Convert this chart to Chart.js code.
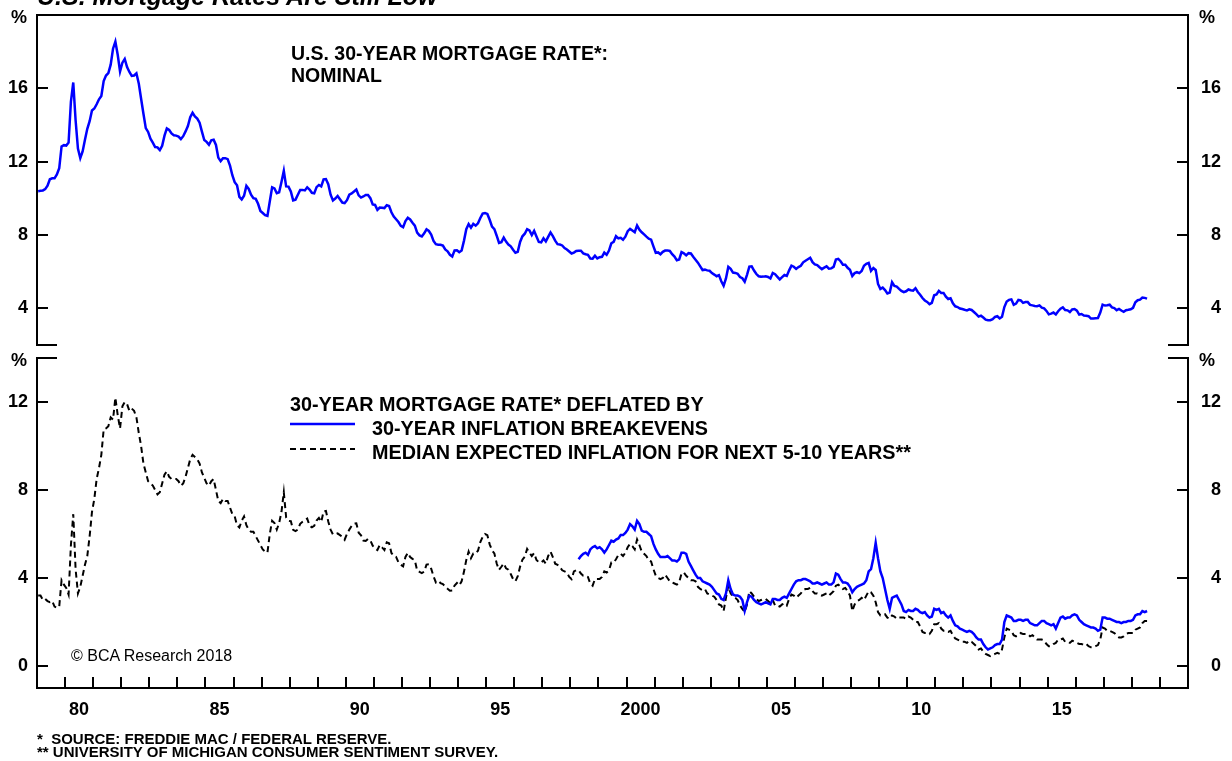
<!DOCTYPE html>
<html>
<head>
<meta charset="utf-8">
<script src="https://cdn.jsdelivr.net/npm/chart.js@4.4.0/dist/chart.umd.min.js"></script>
<style>
  body { margin: 0; background: #fff; width: 1232px; height: 761px; overflow: hidden; position: relative;
         font-family: "Liberation Sans", Arial, sans-serif; }
  canvas { position: absolute; left: 0; }
  .t { position: absolute; white-space: pre; font-weight: bold; line-height: 1; color: #000; font-size: 19.5px; }
  .leg { font-size: 19.8px; }
</style>
</head>
<body>
<canvas id="topChart" width="1232" height="358" style="top:0"></canvas>
<canvas id="bottomChart" width="1232" height="411" style="top:350px"></canvas>

<div class="t" style="left:37px; top:-16px; font-size:25px; font-style:italic;">U.S. Mortgage Rates Are Still Low</div>
<div class="t" style="left:11px; top:8px; font-size:18px;">%</div>
<div class="t" style="left:1199px; top:8px; font-size:18px;">%</div>
<div class="t" style="left:11px; top:351px; font-size:18px;">%</div>
<div class="t" style="left:1199px; top:351px; font-size:18px;">%</div>
<div class="t" style="left:291px; top:43.5px;">U.S. 30-YEAR MORTGAGE RATE*:</div>
<div class="t" style="left:291px; top:66px;">NOMINAL</div>
<div class="t leg" style="left:290px; top:394.5px;">30-YEAR MORTGAGE RATE* DEFLATED BY</div>
<div class="t leg" style="left:372px; top:418.5px;">30-YEAR INFLATION BREAKEVENS</div>
<div class="t leg" style="left:372px; top:442.5px;">MEDIAN EXPECTED INFLATION FOR NEXT 5-10 YEARS**</div>
<div class="t" style="left:71px; top:648px; font-size:16px; font-weight:normal;">© BCA Research 2018</div>
<div class="t" style="left:37px; top:730.5px; font-size:15px;">*  SOURCE: FREDDIE MAC / FEDERAL RESERVE.</div>
<div class="t" style="left:37px; top:743.5px; font-size:15px;">** UNIVERSITY OF MICHIGAN CONSUMER SENTIMENT SURVEY.</div>

<script>
// monthly data, Jan 1979 .. Jul 2018
const startYear = 1979;

// U.S. 30-year mortgage rate, nominal (%)
const nominalRate = [
  10.39, 10.41, 10.43, 10.50, 10.69, 11.04, 11.09, 11.09, 11.30, 11.64, 12.83, 12.90,
  12.88, 13.04, 15.28, 16.32, 14.26, 12.71, 12.19, 12.56, 13.20, 13.79, 14.21, 14.79,
  14.90, 15.13, 15.40, 15.58, 16.40, 16.70, 16.83, 17.29, 18.16, 18.55, 17.83, 16.92,
  17.40, 17.60, 17.16, 16.89, 16.68, 16.70, 16.82, 16.27, 15.43, 14.61, 13.83, 13.62,
  13.25, 13.04, 12.80, 12.78, 12.63, 12.87, 13.42, 13.81, 13.73, 13.54, 13.44, 13.42,
  13.37, 13.23, 13.39, 13.65, 13.94, 14.42, 14.67, 14.47, 14.35, 14.13, 13.64, 13.18,
  13.08, 12.92, 13.17, 13.20, 12.91, 12.22, 12.03, 12.19, 12.19, 12.14, 11.78, 11.26,
  10.88, 10.71, 10.08, 9.94, 10.14, 10.68, 10.51, 10.20, 10.01, 9.97, 9.70, 9.31,
  9.20, 9.08, 9.04, 9.83, 10.60, 10.54, 10.28, 10.33, 10.89, 11.50, 10.65, 10.64,
  10.38, 9.89, 9.93, 10.20, 10.46, 10.46, 10.43, 10.60, 10.48, 10.30, 10.27, 10.61,
  10.73, 10.65, 11.03, 11.05, 10.77, 10.20, 9.88, 9.99, 10.13, 9.95, 9.77, 9.74,
  9.90, 10.20, 10.27, 10.37, 10.48, 10.16, 10.04, 10.10, 10.18, 10.18, 10.01, 9.67,
  9.64, 9.37, 9.50, 9.49, 9.47, 9.62, 9.58, 9.24, 9.01, 8.86, 8.71, 8.50,
  8.43, 8.76, 8.94, 8.85, 8.67, 8.51, 8.13, 7.98, 7.92, 8.09, 8.31, 8.22,
  8.02, 7.68, 7.50, 7.47, 7.47, 7.42, 7.21, 7.11, 6.92, 6.83, 7.16, 7.17,
  7.06, 7.15, 7.68, 8.32, 8.60, 8.40, 8.61, 8.51, 8.64, 8.93, 9.17, 9.20,
  9.15, 8.83, 8.46, 8.32, 7.96, 7.57, 7.61, 7.86, 7.64, 7.48, 7.38, 7.20,
  7.03, 7.08, 7.62, 7.93, 8.07, 8.32, 8.25, 8.00, 8.23, 7.92, 7.62, 7.60,
  7.82, 7.65, 7.90, 8.14, 7.94, 7.69, 7.50, 7.48, 7.43, 7.29, 7.21, 7.10,
  6.99, 7.04, 7.13, 7.14, 7.14, 7.00, 6.95, 6.92, 6.72, 6.71, 6.87, 6.72,
  6.79, 6.81, 7.04, 6.92, 7.15, 7.55, 7.63, 7.94, 7.82, 7.85, 7.74, 7.91,
  8.21, 8.33, 8.24, 8.15, 8.52, 8.29, 8.15, 8.03, 7.91, 7.80, 7.75, 7.38,
  7.03, 7.05, 6.95, 7.08, 7.15, 7.16, 7.13, 6.95, 6.82, 6.62, 6.66, 7.07,
  7.00, 6.89, 7.01, 6.99, 6.81, 6.65, 6.49, 6.29, 6.09, 6.11, 6.07, 6.05,
  5.92, 5.84, 5.75, 5.81, 5.48, 5.23, 5.63, 6.26, 6.15, 5.95, 5.93, 5.88,
  5.71, 5.64, 5.45, 5.83, 6.27, 6.29, 6.06, 5.87, 5.75, 5.72, 5.73, 5.75,
  5.71, 5.63, 5.93, 5.86, 5.72, 5.58, 5.70, 5.82, 5.77, 6.07, 6.33, 6.27,
  6.15, 6.25, 6.32, 6.51, 6.60, 6.68, 6.76, 6.52, 6.40, 6.36, 6.24, 6.14,
  6.22, 6.29, 6.16, 6.18, 6.26, 6.66, 6.70, 6.57, 6.38, 6.38, 6.21, 6.10,
  5.76, 5.92, 5.97, 5.92, 6.04, 6.32, 6.43, 6.48, 6.04, 6.20, 6.09, 5.33,
  5.06, 5.13, 5.00, 4.81, 4.86, 5.42, 5.22, 5.19, 5.06, 4.95, 4.88, 4.93,
  5.03, 4.99, 4.97, 5.10, 4.89, 4.74, 4.56, 4.43, 4.35, 4.23, 4.30, 4.71,
  4.76, 4.95, 4.84, 4.84, 4.64, 4.51, 4.55, 4.27, 4.11, 4.07, 3.99, 3.96,
  3.92, 3.89, 3.95, 3.91, 3.80, 3.68, 3.55, 3.60, 3.50, 3.38, 3.35, 3.35,
  3.41, 3.53, 3.57, 3.45, 3.54, 4.07, 4.37, 4.46, 4.49, 4.19, 4.26, 4.46,
  4.43, 4.30, 4.34, 4.34, 4.19, 4.16, 4.13, 4.12, 4.16, 4.04, 4.00, 3.86,
  3.67, 3.71, 3.77, 3.67, 3.84, 3.98, 4.05, 3.91, 3.89, 3.80, 3.94, 3.96,
  3.87, 3.66, 3.69, 3.61, 3.60, 3.57, 3.44, 3.44, 3.46, 3.47, 3.77, 4.20,
  4.15, 4.17, 4.20, 4.05, 4.01, 3.90, 3.97, 3.88, 3.81, 3.90, 3.92, 3.95,
  4.03, 4.33, 4.44, 4.47, 4.59, 4.57, 4.53
];

// mortgage rate deflated by median expected inflation, next 5-10 years (%)
const realMichigan = [
  3.2, 3.2, 3.0, 3.05, 2.95, 2.9, 2.95, 2.7, 2.65, 2.7, 3.9, 3.7,
  3.55, 3.25, 5.5, 6.9, 4.4, 3.3, 3.6, 4.1, 4.6, 5.0, 5.9, 7.0,
  7.6, 8.5, 9.0, 9.6, 10.75, 10.8, 10.9, 11.3, 11.2, 12.2, 11.4, 10.8,
  11.8, 12.0, 11.9, 11.6, 11.7, 11.6, 11.3, 10.6, 10.0, 9.2, 8.8, 8.4,
  8.3, 8.2, 8.0, 7.8, 7.9, 8.3, 8.7, 8.85, 8.6, 8.5, 8.5, 8.5,
  8.4, 8.2, 8.3, 8.6, 9.0, 9.4, 9.6, 9.5, 9.4, 9.2, 8.8, 8.55,
  8.3, 8.2, 8.4, 8.5, 8.0, 7.5, 7.4, 7.6, 7.5, 7.5, 7.2, 6.9,
  6.8, 6.4, 6.3, 6.6, 6.8, 6.4, 6.2, 6.1, 6.1, 5.9, 5.7, 5.5,
  5.3, 5.2, 5.15, 6.0, 6.6, 6.5, 6.2, 6.5, 7.0, 7.9, 6.75, 6.6,
  6.58, 6.19, 6.13, 6.2, 6.46, 6.56, 6.63, 6.7, 6.38, 6.3, 6.37, 6.61,
  6.73, 6.55, 7.03, 7.05, 6.57, 6.2, 5.98, 5.99, 6.03, 5.95, 5.87, 5.74,
  6.0, 6.2, 6.37, 6.47, 6.48, 6.06, 5.94, 5.7, 5.68, 5.78, 5.71, 5.47,
  5.34, 5.27, 5.5, 5.39, 5.27, 5.62, 5.58, 5.14, 5.01, 4.96, 4.71, 4.6,
  4.53, 4.96, 5.14, 4.95, 4.87, 4.81, 4.33, 4.28, 4.22, 4.29, 4.61, 4.62,
  4.42, 4.08, 3.8, 3.87, 3.77, 3.72, 3.61, 3.51, 3.42, 3.43, 3.66, 3.77,
  3.66, 3.85, 4.28, 4.82, 5.2, 4.9, 5.11, 5.11, 5.24, 5.63, 5.87, 6.0,
  5.95, 5.53, 5.26, 5.12, 4.66, 4.37, 4.51, 4.66, 4.44, 4.38, 4.18, 3.95,
  3.85, 4.08, 4.52, 4.83, 4.97, 5.32, 5.15, 5.0, 5.13, 4.82, 4.72, 4.7,
  4.8, 4.65, 5.0, 5.2, 4.95, 4.65, 4.6, 4.5, 4.35, 4.3, 4.25, 4.05,
  3.95, 4.3, 4.35, 4.35, 4.2, 4.1, 4.1, 4.05, 3.75, 3.65, 3.95, 3.95,
  3.95, 4.05, 4.3, 4.25, 4.35, 4.7, 4.7, 4.85, 5.05, 5.1, 5.0, 5.15,
  5.4, 5.55, 5.45, 5.3, 5.75, 5.5, 5.2, 5.1, 5.0, 4.8, 4.75, 4.4,
  4.1, 4.0, 3.95, 4.0, 4.15, 4.0, 3.85, 3.8, 3.75, 3.7, 3.8, 4.2,
  4.25, 4.1, 4.0, 3.9, 3.9, 3.85, 3.6, 3.5, 3.45, 3.5, 3.3, 3.25,
  3.2, 3.15, 3.0, 2.8, 2.75, 2.5, 3.1, 3.65, 3.3, 3.15, 3.1, 3.0,
  2.75, 2.6, 2.45, 2.8, 3.4, 3.3, 3.15, 3.05, 2.95, 3.0, 3.05, 3.05,
  2.95, 2.85, 3.0, 2.75, 2.75, 2.7, 2.8, 2.85, 2.75, 3.05, 3.25, 3.2,
  3.1, 3.2, 3.3, 3.45, 3.5, 3.5, 3.55, 3.4, 3.3, 3.3, 3.25, 3.2,
  3.25, 3.3, 3.2, 3.3, 3.4, 3.65, 3.7, 3.6, 3.5, 3.55, 3.4, 3.2,
  2.5, 2.8, 2.95, 3.0, 3.1, 3.0, 3.2, 3.4, 3.35, 3.2, 2.9, 2.45,
  2.3, 2.3, 2.35, 2.2, 2.15, 2.3, 2.25, 2.15, 2.2, 2.2, 2.2, 2.15,
  2.25, 2.2, 2.1, 2.0, 2.0, 1.8, 1.55, 1.5, 1.5, 1.45, 1.6, 1.9,
  1.9, 1.95, 1.7, 1.6, 1.6, 1.55, 1.6, 1.4, 1.25, 1.2, 1.15, 1.1,
  1.1, 1.05, 1.15, 1.1, 1.0, 0.9, 0.75, 0.8, 0.65, 0.55, 0.5, 0.45,
  0.5, 0.55, 0.6, 0.55, 0.75, 1.3, 1.7, 1.65, 1.6, 1.4, 1.35, 1.4,
  1.5, 1.45, 1.45, 1.45, 1.35, 1.4, 1.3, 1.2, 1.2, 1.2, 1.15, 1.0,
  0.9, 0.9, 1.0, 1.05, 1.2, 1.2, 1.25, 1.1, 1.1, 1.05, 1.15, 1.1,
  1.05, 1.0, 1.0, 0.95, 1.0, 0.9, 0.85, 0.85, 0.9, 0.95, 1.2, 1.75,
  1.7, 1.6, 1.6, 1.55, 1.5, 1.4, 1.3, 1.3, 1.35, 1.45, 1.5, 1.5,
  1.5, 1.65, 1.7, 1.75, 1.95, 2.05, 2.05
];

// mortgage rate deflated by 30-year inflation breakevens (%), from Apr 1998
const breakevenStartYear = 1998;
const breakevenStartMonth = 4;
const realBreakeven = [
  4.85, 5.0, 5.1, 5.15, 5.05, 5.3, 5.4, 5.45, 5.35,
  5.4, 5.3, 5.15, 5.3, 5.5, 5.7, 5.65, 5.75, 5.8, 5.95, 5.95, 6.05,
  6.2, 6.45, 6.35, 6.2, 6.6, 6.45, 6.15, 6.1, 6.1, 6.0, 5.9, 5.55,
  5.3, 5.1, 4.95, 4.95, 4.95, 5.0, 4.9, 4.8, 4.8, 4.75, 4.85, 5.15,
  5.15, 5.1, 4.75, 4.55, 4.35, 4.15, 4.0, 4.0, 3.85, 3.8, 3.75, 3.7,
  3.6, 3.45, 3.3, 3.25, 3.05, 3.0, 3.3, 3.9, 3.5, 3.25, 3.2, 3.2,
  3.15, 3.0, 2.5, 2.9, 3.2, 3.15, 3.0, 2.9, 2.85, 2.8, 2.85, 2.9,
  2.85, 2.8, 3.05, 3.05, 3.0, 3.0, 3.1, 3.15, 3.1, 3.3, 3.5, 3.7,
  3.85, 3.9, 3.9, 3.95, 3.95, 3.9, 3.85, 3.75, 3.75, 3.8, 3.75, 3.7,
  3.75, 3.8, 3.7, 3.7, 3.8, 4.2, 4.15, 3.95, 3.8, 3.8, 3.75, 3.6,
  3.35, 3.5, 3.6, 3.65, 3.7, 3.75, 3.9, 4.3, 4.4, 4.9, 5.6, 4.9,
  4.3, 4.0, 3.5, 3.0, 2.6, 3.1, 3.15, 3.2, 3.0, 2.8, 2.5, 2.45,
  2.55, 2.5, 2.5, 2.6, 2.55, 2.45, 2.4, 2.45, 2.3, 2.2, 2.25, 2.6,
  2.55, 2.6, 2.4, 2.45, 2.3, 2.2, 2.3, 2.05, 1.85, 1.8, 1.7, 1.65,
  1.6, 1.55, 1.6, 1.55, 1.45, 1.3, 1.2, 1.2, 1.0, 0.85, 0.75, 0.8,
  0.85, 0.95, 1.0, 1.0, 1.2, 2.0, 2.3, 2.25, 2.2, 2.05, 2.05, 2.1,
  2.1, 2.05, 2.1, 2.1, 1.95, 1.9, 1.85, 1.85, 1.95, 2.05, 2.05, 1.95,
  1.9, 1.85, 1.9, 1.7, 1.95, 2.2, 2.25, 2.15, 2.2, 2.2, 2.3, 2.35,
  2.3, 2.1, 2.0, 1.9, 1.85, 1.8, 1.75, 1.75, 1.7, 1.6, 1.65, 2.2,
  2.2, 2.15, 2.15, 2.1, 2.05, 2.0, 2.0, 1.95, 2.0, 2.0, 2.05, 2.05,
  2.1, 2.3, 2.35, 2.35, 2.5, 2.45, 2.5
];

// x axis: yearly tick marks, labels every 5 years
const labelYears = [1980, 1985, 1990, 1995, 2000, 2005, 2010, 2015];
const yearLabels = ["80", "85", "90", "95", "2000", "05", "10", "15"];
const topTicks = [4, 8, 12, 16];
const bottomTicks = [0, 4, 8, 12];

const FONT = '"Liberation Sans", Arial, sans-serif';
const BLUE = "#0000ff";

const monthPoints = (values, year, month) =>
  values.map((v, i) => ({ x: year + (month - 1 + i + 0.5) / 12, y: v }));

// axes, tick marks and the little panel break marks
const framePlugin = {
  id: "frame",
  afterDraw(chart, args, opts) {
    const { ctx, chartArea: a, scales } = chart;
    ctx.save();
    ctx.strokeStyle = "#000";
    ctx.lineWidth = 2;
    ["y", "y2"].forEach((id) => {
      const s = scales[id];
      s.ticks.forEach((t) => {
        const py = Math.round(s.getPixelForValue(t.value));
        ctx.beginPath();
        if (s.position === "left") {
          ctx.moveTo(a.left, py);
          ctx.lineTo(a.left + 11, py);
        } else {
          ctx.moveTo(a.right, py);
          ctx.lineTo(a.right - 11, py);
        }
        ctx.stroke();
      });
    });
    const by = opts.breakEdge === "bottom" ? a.bottom : a.top;
    ctx.beginPath();
    ctx.moveTo(a.left - 1, by);
    ctx.lineTo(a.left + 20, by);
    ctx.moveTo(a.right + 1, by);
    ctx.lineTo(a.right - 20, by);
    ctx.stroke();
    if (opts.topBorder) {
      ctx.beginPath();
      ctx.moveTo(a.left - 1, a.top);
      ctx.lineTo(a.right + 1, a.top);
      ctx.stroke();
    }
    if (opts.yearTicks) {
      const sx = scales.x;
      for (let yr = Math.ceil(sx.min) + 1; yr < sx.max; yr++) {
        const px = Math.round(sx.getPixelForValue(yr));
        ctx.beginPath();
        ctx.moveTo(px, a.bottom);
        ctx.lineTo(px, a.bottom - 11);
        ctx.stroke();
      }
    }
    // legend keys drawn with the dataset styles
    (opts.legendKeys || []).forEach((k) => {
      const ds = chart.data.datasets[k.dataset];
      ctx.beginPath();
      ctx.strokeStyle = ds.borderColor;
      ctx.lineWidth = ds.borderWidth;
      ctx.setLineDash(ds.borderDash || []);
      ctx.moveTo(k.x1, k.y);
      ctx.lineTo(k.x2, k.y);
      ctx.stroke();
      ctx.setLineDash([]);
    });
    ctx.restore();
  },
};

// keep the label overhang from shrinking the plot area
function noOverhang(s) {
  s.paddingTop = 0;
  s.paddingBottom = 0;
  s.paddingLeft = 0;
  s.paddingRight = 0;
}

function yAxis(position, min, max, ticks, width) {
  return {
    position: position,
    min: min,
    max: max,
    afterBuildTicks: (s) => { s.ticks = ticks.map((v) => ({ value: v })); },
    afterFit: (s) => { s.width = width; noOverhang(s); },
    grid: { display: false, drawTicks: false },
    border: { display: true, color: "#000", width: 2 },
    ticks: {
      color: "#000",
      padding: 9,
      crossAlign: position === "right" ? "far" : "near",
      font: { family: FONT, size: 18, weight: "bold" },
    },
  };
}

const baseOptions = {
  responsive: false,
  animation: false,
  devicePixelRatio: 1,
  events: [],
  elements: { point: { radius: 0 }, line: { tension: 0 } },
};

new Chart(document.getElementById("topChart"), {
  type: "line",
  data: {
    datasets: [
      {
        label: "U.S. 30-year mortgage rate: nominal",
        data: monthPoints(nominalRate, startYear, 1),
        borderColor: BLUE,
        borderWidth: 2.5,
      },
    ],
  },
  options: {
    ...baseOptions,
    layout: { padding: { top: 15, bottom: 13, left: 0, right: 11 } },
    scales: {
      x: { type: "linear", min: 1979, max: 2020, display: false },
      y: yAxis("left", 2, 20, topTicks, 37),
      y2: yAxis("right", 2, 20, topTicks, 33),
    },
    plugins: {
      legend: { display: false },
      tooltip: { enabled: false },
      frame: { breakEdge: "bottom", topBorder: true },
    },
  },
  plugins: [framePlugin],
});

new Chart(document.getElementById("bottomChart"), {
  type: "line",
  data: {
    datasets: [
      {
        label: "30-year inflation breakevens",
        data: monthPoints(realBreakeven, breakevenStartYear, breakevenStartMonth),
        borderColor: BLUE,
        borderWidth: 2.5,
      },
      {
        label: "Median expected inflation for next 5-10 years",
        data: monthPoints(realMichigan, startYear, 1),
        borderColor: "#000",
        borderWidth: 2,
        borderDash: [6, 4],
      },
    ],
  },
  options: {
    ...baseOptions,
    layout: { padding: { top: 8, bottom: 0, left: 0, right: 11 } },
    scales: {
      x: {
        type: "linear",
        min: 1979,
        max: 2020,
        position: "bottom",
        afterBuildTicks: (s) => { s.ticks = labelYears.map((y) => ({ value: y + 0.5 })); },
        afterFit: (s) => { s.height = 73; noOverhang(s); },
        grid: { display: false, drawTicks: false },
        border: { display: true, color: "#000", width: 2 },
        ticks: {
          autoSkip: false,
          maxRotation: 0,
          padding: 11,
          color: "#000",
          font: { family: FONT, size: 18, weight: "bold" },
          callback: (v, i) => yearLabels[i],
        },
      },
      y: yAxis("left", -1, 14, bottomTicks, 37),
      y2: yAxis("right", -1, 14, bottomTicks, 33),
    },
    plugins: {
      legend: { display: false },
      tooltip: { enabled: false },
      frame: {
        breakEdge: "top",
        yearTicks: true,
        legendKeys: [
          { dataset: 0, x1: 290, x2: 355, y: 74 },
          { dataset: 1, x1: 290, x2: 355, y: 99 },
        ],
      },
    },
  },
  plugins: [framePlugin],
});
</script>
</body>
</html>
